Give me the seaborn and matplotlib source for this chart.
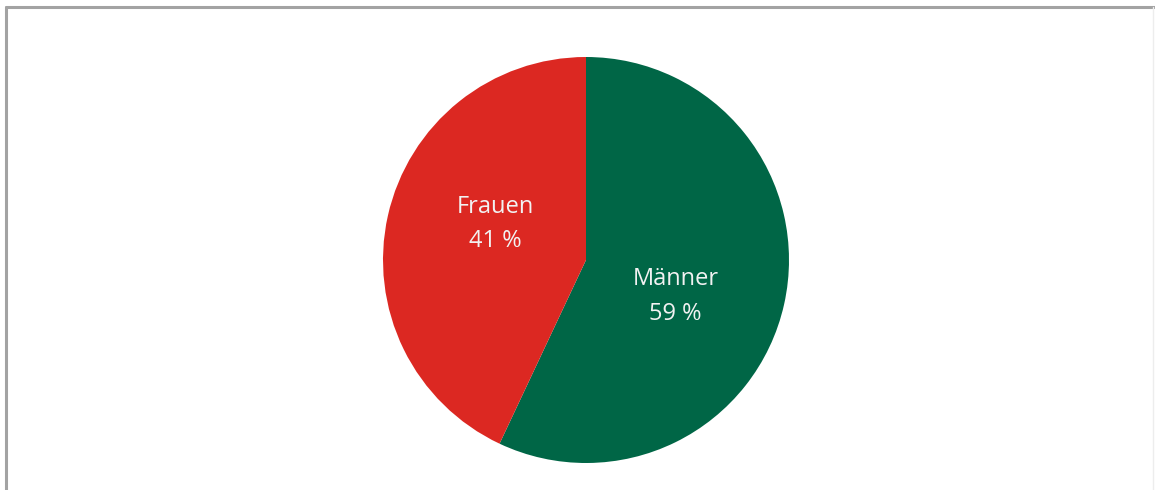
import seaborn as sns
import matplotlib.pyplot as plt
from matplotlib.lines import Line2D

# Data (wedge sizes as drawn in the picture, labels as printed)
categories = ['Männer', 'Frauen']
shares = [57, 43]
pct_labels = ['59 %', '41 %']
colors = ['#006646', '#DC2822']

sns.set_theme(style='white')
plt.rcParams['font.family'] = ['Open Sans', 'DejaVu Sans']

fig = plt.figure(figsize=(11.55, 4.9), dpi=100)
fig.patch.set_facecolor('white')

# frame: top and left visible, right very faint
fig.lines.append(Line2D([6 / 1155, 6 / 1155], [0, 1 - 7 / 490], transform=fig.transFigure,
                        color='#A3A3A3', linewidth=2.2))
fig.lines.append(Line2D([6 / 1155, 1], [1 - 7 / 490, 1 - 7 / 490], transform=fig.transFigure,
                        color='#A3A3A3', linewidth=2.2))
fig.lines.append(Line2D([1153 / 1155, 1153 / 1155], [0, 1 - 7 / 490], transform=fig.transFigure,
                        color='#EDEDED', linewidth=1))

ax = fig.add_axes([383 / 1155, 27 / 490, 406 / 1155, 406 / 490])
labels = [f'{c}\n{p}' for c, p in zip(categories, pct_labels)]
wedges, texts = ax.pie(shares, labels=labels, colors=colors, startangle=90,
                       counterclock=False, labeldistance=0.46,
                       wedgeprops=dict(linewidth=0))
label_pos = [(0.44, -0.18), (-0.448, 0.177)]
for t, pos in zip(texts, label_pos):
    t.set_position(pos)
    t.set_color('#F2F2F2')
    t.set_fontsize(17)
    t.set_ha('center')
    t.set_va('center')
    t.set_linespacing(1.6)
ax.set_aspect('equal')
ax.set_xlim(-1, 1)
ax.set_ylim(-1, 1)
ax.axis('off')

fig.savefig('out.png', dpi=100, facecolor='white')
